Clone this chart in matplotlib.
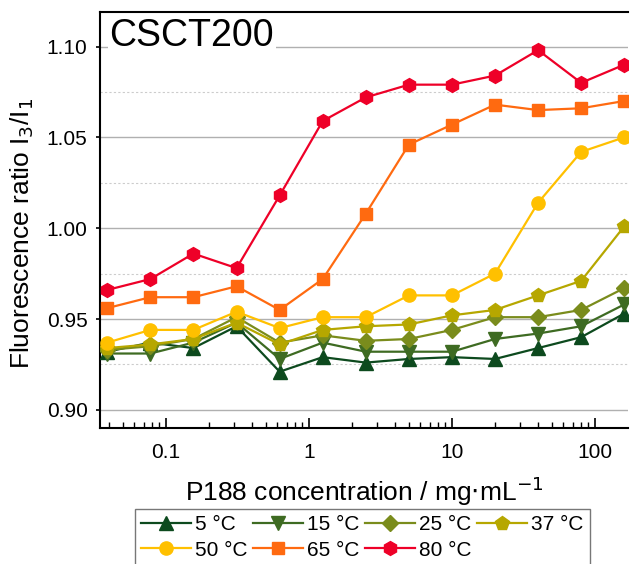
import numpy as np
import matplotlib
matplotlib.use("Agg")
import matplotlib.pyplot as plt
from matplotlib.ticker import MultipleLocator, LogLocator, NullFormatter, FixedLocator, FixedFormatter

plt.rcParams['font.family'] = ['Liberation Sans', 'DejaVu Sans']

# --- data --------------------------------------------------------------------
conc = [0.039, 0.078, 0.156, 0.3125, 0.625, 1.25, 2.5, 5, 10, 20, 40, 80, 160]

t5 = [0.932, 0.937, 0.934, 0.946, 0.921, 0.929, 0.926, 0.928, 0.929, 0.928, 0.934, 0.940, 0.953]
t15 = [0.931, 0.931, 0.937, 0.948, 0.928, 0.937, 0.932, 0.932, 0.932, 0.939, 0.942, 0.946, 0.958]
t25 = [0.933, 0.935, 0.939, 0.951, 0.937, 0.941, 0.938, 0.939, 0.944, 0.951, 0.951, 0.955, 0.967]
t37 = [0.934, 0.936, 0.939, 0.948, 0.936, 0.944, 0.946, 0.947, 0.952, 0.955, 0.963, 0.971, 1.001]
t50 = [0.937, 0.944, 0.944, 0.954, 0.945, 0.951, 0.951, 0.963, 0.963, 0.975, 1.014, 1.042, 1.050]
t65 = [0.956, 0.962, 0.962, 0.968, 0.955, 0.972, 1.008, 1.046, 1.057, 1.068, 1.065, 1.066, 1.070]
t80 = [0.966, 0.972, 0.986, 0.978, 1.018, 1.059, 1.072, 1.079, 1.079, 1.084, 1.098, 1.080, 1.090]

series = [
    ("5 °C", t5, "#0d4a1e", "^"),
    ("15 °C", t15, "#3e6b22", "v"),
    ("25 °C", t25, "#7a8c1c", "D"),
    ("37 °C", t37, "#b6a700", "p"),
    ("50 °C", t50, "#ffc000", "o"),
    ("65 °C", t65, "#ff6a10", "s"),
    ("80 °C", t80, "#ee0028", "h"),
]
marker_size = {"^": 9.5, "v": 9.5, "D": 8, "p": 10, "o": 9.5, "s": 8.5, "h": 10}

fig = plt.figure(figsize=(6.3, 5.64), dpi=100)
ax = fig.add_axes([100 / 630, 1 - 428 / 564, 528 / 630, 416 / 564])

lines = {}
for label, vals, col, mk in series:
    ln, = ax.plot(conc, vals, color=col, marker=mk, markersize=marker_size[mk],
                  linewidth=1.6, markeredgecolor=col, label=label, zorder=3)
    lines[label] = ln

ax.set_xscale("log")
ax.set_xlim(0.0347, 170)
ax.set_ylim(0.890, 1.119)

ax.xaxis.set_major_locator(FixedLocator([0.1, 1, 10, 100]))
ax.xaxis.set_major_formatter(FixedFormatter(["0.1", "1", "10", "100"]))
ax.xaxis.set_minor_locator(LogLocator(base=10, subs=np.arange(2, 10)))
ax.xaxis.set_minor_formatter(NullFormatter())
ax.yaxis.set_major_locator(MultipleLocator(0.05))
ax.yaxis.set_minor_locator(MultipleLocator(0.025))
ax.yaxis.set_major_formatter(plt.FuncFormatter(lambda v, p: f"{v:.2f}"))

ax.tick_params(axis="x", which="major", direction="in", length=7, width=1.2,
               labelsize=15, pad=11)
ax.tick_params(axis="x", which="minor", direction="in", length=4, width=1.0)
ax.tick_params(axis="y", which="major", direction="out", length=3, width=1.2,
               labelsize=15, pad=6)
ax.tick_params(axis="y", which="minor", length=0)

ax.grid(True, which="major", axis="y", color="#b0b0b0", linewidth=1.0, zorder=0)
ax.grid(True, which="minor", axis="y", color="#cccccc", linewidth=0.8,
        linestyle=(0, (2, 2)), zorder=0)

for side in ("left", "bottom", "top"):
    ax.spines[side].set_linewidth(1.5)
ax.spines["right"].set_visible(False)

ax.set_ylabel("Fluorescence ratio I$_3$/I$_1$", fontsize=19)
ax.set_xlabel("P188 concentration / mg$\\cdot$mL$^{-1}$", fontsize=19, labelpad=9)
ax.yaxis.set_label_coords(-0.121, 0.469)

ax.text(0.018, 0.985, "CSCT200", transform=ax.transAxes, fontsize=27,
        va="top", ha="left", zorder=4,
        bbox=dict(facecolor="white", edgecolor="none", pad=1))

# fill order so that the rows read 5,15,25,37 / 50,65,80
order = ["5 °C", "50 °C", "15 °C", "65 °C", "25 °C", "80 °C", "37 °C"]
leg = fig.legend([lines[k] for k in order], order,
                 loc="upper left", bbox_to_anchor=(135 / 630, 1 - 509 / 564),
                 ncol=4, fontsize=15, frameon=True, fancybox=False,
                 edgecolor="#555555", handlelength=2.4, handletextpad=0.2,
                 columnspacing=0.25, borderpad=0.3, labelspacing=0.3,
                 borderaxespad=0)
leg.get_frame().set_linewidth(1.0)

fig.savefig("out.png", dpi=100)
